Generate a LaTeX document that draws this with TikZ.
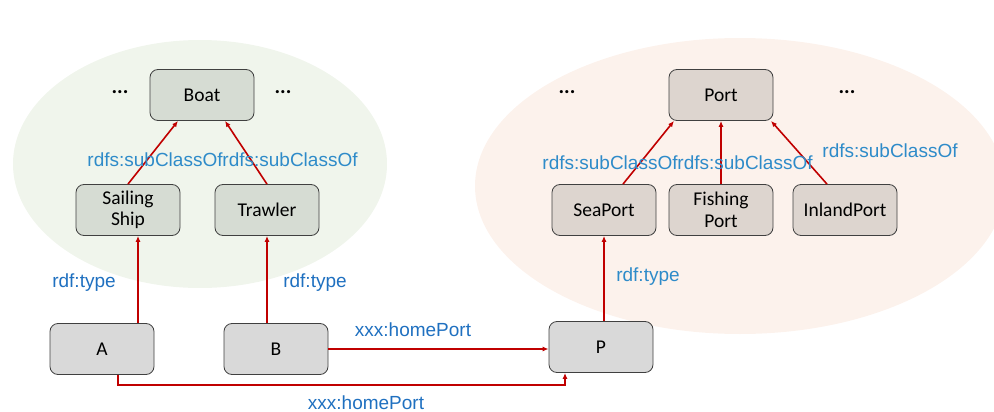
\documentclass[tikz,border=0pt]{standalone}
\usepackage{fontspec}
\usepackage{xcolor}
\setmainfont{Carlito}
\newfontfamily\labelfont{Liberation Sans}
\usetikzlibrary{arrows.meta, positioning, shapes}

\definecolor{boatbg}{HTML}{F0F5EC}
\definecolor{portbg}{HTML}{FCF2EC}
\definecolor{boatfill}{HTML}{D6DCD3}
\definecolor{portfill}{HTML}{DDD5CF}
\definecolor{instfill}{HTML}{D9D9D9}
\definecolor{edgered}{HTML}{C00000}
\definecolor{lblblue}{HTML}{2E8BC9}
\definecolor{typeblue}{HTML}{1F70C0}

\begin{document}
\begin{tikzpicture}[
            x=1pt, y=-1pt,
            box/.style={rectangle, rounded corners=8pt, draw=black!75, line width=0.8pt,
                minimum width=104pt, minimum height=51pt, align=center,
                font=\fontsize{19.5}{21.5}\selectfont},
            boatbox/.style={box, fill=boatfill},
            portbox/.style={box, fill=portfill},
            instbox/.style={box, fill=instfill},
            dots/.style={font=\fontsize{21}{22}\bfseries\selectfont},
            rel/.style={draw=edgered, line width=1.6pt, -{Latex[length=6pt, width=5pt]}},
            sublbl/.style={text=lblblue, font=\labelfont\fontsize{19}{21}\selectfont, inner sep=0pt},
            typelbl/.style={text=typeblue, font=\labelfont\fontsize{19}{21}\selectfont, inner sep=0pt},
        ]
            \useasboundingbox (0,0) rectangle (994,412);
            % background groups
            \fill[boatbg] (200,164) ellipse [x radius=187, y radius=124];
            \fill[portbg] (740,186) ellipse [x radius=265, y radius=148];

            % boat classes
            \node[boatbox] (boat) at (202,95) {Boat};
            \node[boatbox] (sailing) at (128,210) {Sailing\\Ship};
            \node[boatbox] (trawler) at (267,210) {Trawler};
            \node[dots] (bdotsl) at (120,92) {...};
            \node[dots] (bdotsr) at (283,92) {...};

            % port classes
            \node[portbox] (port) at (721,95) {Port};
            \node[portbox] (seaport) at (604,210) {SeaPort};
            \node[portbox] (fishing) at (721,210) {Fishing\\Port};
            \node[portbox] (inland) at (845,210) {InlandPort};
            \node[dots] (pdotsl) at (567,92) {...};
            \node[dots] (pdotsr) at (847,92) {...};

            % instances
            \node[instbox] (a) at (102,349) {A};
            \node[instbox] (b) at (276,349) {B};
            \node[instbox] (p) at (601,347) {P};

            % subclass edges
            \draw[rel] (sailing.north) -- (boat.south west -| 178,0);
            \draw[rel] (trawler.north) -- (boat.south east -| 225,0);
            \draw[rel] (seaport.north -| 623,0) -- (port.south west -| 674,0);
            \draw[rel] (fishing.north) -- (port.south);
            \draw[rel] (inland.north -| 827,0) -- (port.south east -| 771,0);

            % type edges
            \draw[rel] (a.north -| 138,0) -- (sailing.south -| 138,0);
            \draw[rel] (b.north -| 267,0) -- (trawler.south);
            \draw[rel] (p.north -| 604,0) -- (seaport.south);

            % homePort edges
            \draw[rel] (b.east) -- (p.west |- b.east);
            \draw[rel] (a.south -| 118,0) -- (118,385) -- (565,385) -- (p.south -| 565,0);

            % labels
            \node[sublbl] (l1) at (155,160) {rdfs:subClassOf};
            \node[sublbl] (l2) at (290,160) {rdfs:subClassOf};
            \node[sublbl] (l3) at (610,163) {rdfs:subClassOf};
            \node[sublbl] (l4) at (745,163) {rdfs:subClassOf};
            \node[sublbl] (l5) at (890,151) {rdfs:subClassOf};
            \node[typelbl] (t1) at (84,283) {rdf:type};
            \node[typelbl] (t2) at (315,283) {rdf:type};
            \node[sublbl] (t3) at (648,277) {rdf:type};
            \node[typelbl] (h1) at (413,330) {xxx:homePort};
            \node[typelbl] (h2) at (366,403) {xxx:homePort};
        \end{tikzpicture}
\end{document}
